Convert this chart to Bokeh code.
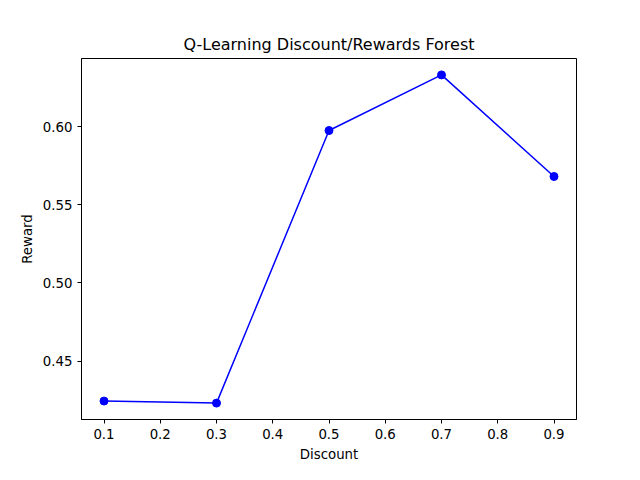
from bokeh.plotting import figure
from bokeh.embed import file_html
from bokeh.resources import INLINE
from bokeh.models import Range1d, FixedTicker, PrintfTickFormatter

discount = [0.1, 0.3, 0.5, 0.7, 0.9]
reward = [0.4244, 0.4231, 0.5975, 0.6331, 0.5681]

p = figure(width=624, height=464, output_backend="svg", toolbar_location=None,
           title="Q-Learning Discount/Rewards Forest",
           x_range=Range1d(0.06, 0.94), y_range=Range1d(0.4126, 0.6436),
           min_border_left=81, min_border_right=48, min_border_top=58, min_border_bottom=37)
p.title.align = "center"
p.title.text_font = "DejaVu Sans"
p.title.text_font_style = "normal"
p.title.text_font_size = "12pt"
p.title.text_color = "black"
p.line(discount, reward, color="blue", line_width=1.5)
p.scatter(discount, reward, color="blue", size=8)
p.xaxis.ticker = FixedTicker(ticks=[0.1,0.2,0.3,0.4,0.5,0.6,0.7,0.8,0.9])
p.yaxis.ticker = FixedTicker(ticks=[0.45,0.50,0.55,0.60])
p.xaxis.axis_label = "Discount"
p.yaxis.axis_label = "Reward"
p.yaxis.formatter = PrintfTickFormatter(format="%.2f")
for ax in (p.xaxis[0], p.yaxis[0]):
    ax.axis_label_text_font = "DejaVu Sans"
    ax.axis_label_text_font_style = "normal"
    ax.axis_label_text_font_size = "10pt"
    ax.axis_label_text_color = "black"
    ax.major_label_text_font = "DejaVu Sans"
    ax.major_label_text_font_size = "10pt"
    ax.major_label_text_color = "black"
    ax.minor_tick_line_color = None
    ax.major_tick_in = 0
    ax.major_tick_out = 4
    ax.major_tick_line_color = "black"
    ax.axis_line_color = "black"
p.xgrid.visible = False
p.ygrid.visible = False
p.outline_line_color = "black"
p.outline_line_alpha = 1
open("out.html", "w").write(file_html(p, INLINE))
